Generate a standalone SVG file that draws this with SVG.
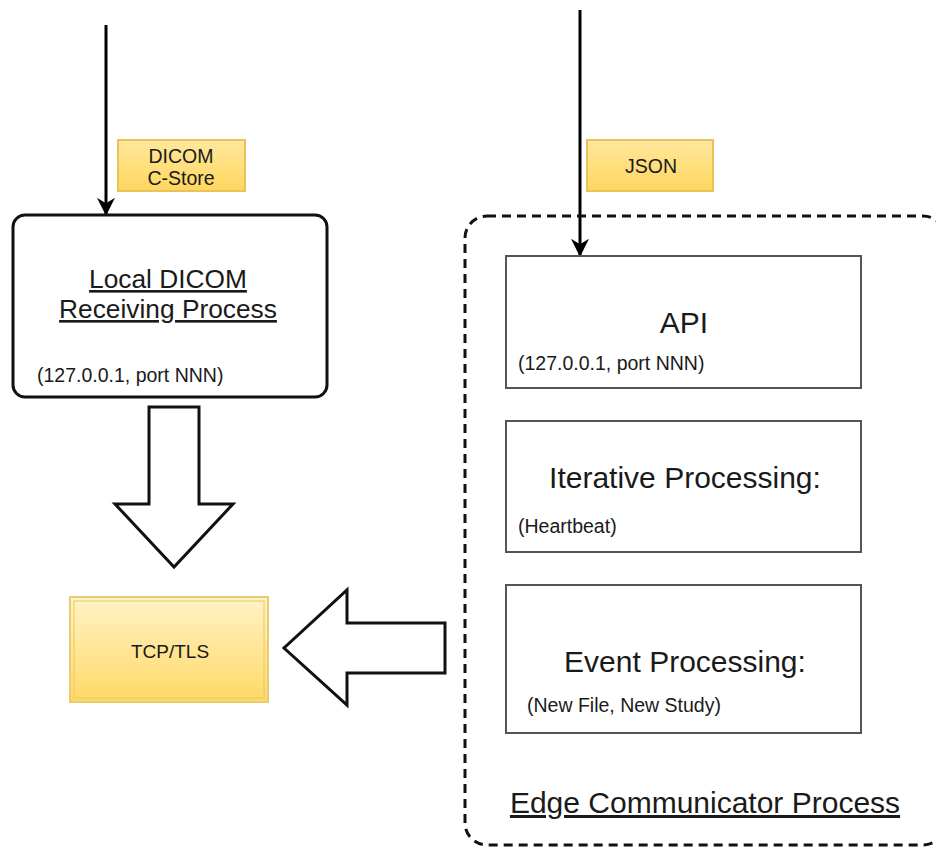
<svg xmlns="http://www.w3.org/2000/svg" width="936" height="848" viewBox="0 0 936 848">
  <defs>
    <linearGradient id="gold" x1="0" y1="0" x2="0" y2="1">
      <stop offset="0" stop-color="#fff3c6"/>
      <stop offset="1" stop-color="#ffd866"/>
    </linearGradient>
    <linearGradient id="tagGold" x1="0" y1="0" x2="0" y2="1">
      <stop offset="0" stop-color="#ffe89e"/>
      <stop offset="1" stop-color="#ffd65e"/>
    </linearGradient>
    <marker id="arrow" viewBox="0 0 10 10" refX="9" refY="5" markerWidth="6" markerHeight="6" orient="auto" markerUnits="strokeWidth">
      <path d="M0,0 L10,5 L0,10 L3,5 Z" fill="#000"/>
    </marker>
    <style>
      text { font-family: "Liberation Sans", Arial, sans-serif; fill: #1a1a1a; }
      .tag { fill: url(#tagGold); stroke: #e8c35a; stroke-width: 2; }
      .tagtext { font-size: 19.5px; text-anchor: middle; }
      .box { fill: #fff; stroke: #555; stroke-width: 2; }
      .title { font-size: 30px; text-anchor: middle; }
      .sub { font-size: 19.5px; }
      .block { fill: #fff; stroke: #111; stroke-width: 3; stroke-linejoin: miter; }
      .flow { stroke: #000; stroke-width: 3; fill: none; }
    </style>
  </defs>
  <rect width="936" height="848" fill="#fff"/>

  <!-- connectors -->
  <g id="connectors">
    <line class="flow" x1="106" y1="25" x2="106" y2="214" marker-end="url(#arrow)"/>
    <line class="flow" x1="580" y1="10" x2="580" y2="255" marker-end="url(#arrow)"/>
    <polygon class="block" points="149,407 199,407 199,504 233,504 174,567 115,504 149,504"/>
    <polygon class="block" points="445,623 445,673 347,673 347,705 284,648 347,590 347,623"/>
  </g>

  <!-- edge communicator container (runs past the right edge) -->
  <g id="edge-communicator">
    <rect x="465" y="216" width="480" height="629" rx="22" fill="none" stroke="#111" stroke-width="3" stroke-dasharray="9 6"/>
    <text x="705" y="813" font-size="30" text-anchor="middle" text-decoration="underline">Edge Communicator Process</text>
  </g>

  <g id="dicom-tag">
    <rect class="tag" x="118" y="140" width="127" height="51"/>
    <text x="181" y="163" class="tagtext">DICOM</text>
    <text x="181" y="185" class="tagtext">C-Store</text>
  </g>

  <g id="json-tag">
    <rect class="tag" x="587" y="140" width="126" height="51"/>
    <text x="651" y="173" class="tagtext">JSON</text>
  </g>

  <g id="local-dicom">
    <rect x="13" y="215" width="314" height="182" rx="12" fill="#fff" stroke="#111" stroke-width="3"/>
    <text x="168" y="288" font-size="26.3" text-anchor="middle" text-decoration="underline">Local DICOM</text>
    <text x="168" y="318" font-size="26.3" text-anchor="middle" text-decoration="underline">Receiving Process</text>
    <text x="37" y="382" class="sub">(127.0.0.1, port NNN)</text>
  </g>

  <g id="api">
    <rect class="box" x="506" y="256" width="355" height="132"/>
    <text x="684" y="333" class="title">API</text>
    <text x="518" y="370" class="sub">(127.0.0.1, port NNN)</text>
  </g>

  <g id="iterative">
    <rect class="box" x="506" y="421" width="355" height="131"/>
    <text x="685" y="488" class="title">Iterative Processing:</text>
    <text x="518" y="533" class="sub">(Heartbeat)</text>
  </g>

  <g id="event">
    <rect class="box" x="506" y="585" width="355" height="148"/>
    <text x="685" y="672" class="title">Event Processing:</text>
    <text x="527" y="712" class="sub">(New File, New Study)</text>
  </g>

  <g id="tcp-tls">
    <rect x="70" y="597" width="198" height="105" fill="url(#gold)" stroke="#e8cc70" stroke-width="2"/>
    <rect x="74" y="601" width="190" height="97" fill="none" stroke="#e6c766" stroke-width="1"/>
    <text x="170" y="658" font-size="19" text-anchor="middle">TCP/TLS</text>
  </g>
</svg>
